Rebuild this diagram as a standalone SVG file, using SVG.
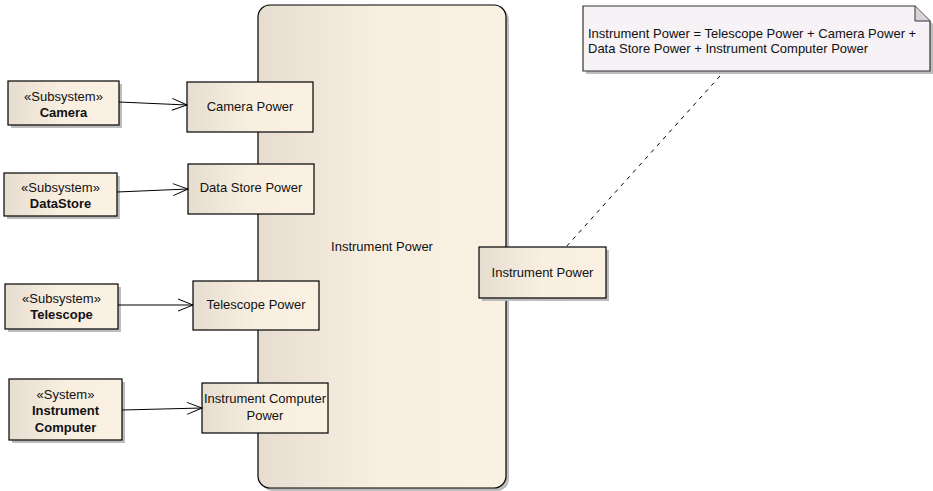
<svg xmlns="http://www.w3.org/2000/svg" width="933" height="491" viewBox="0 0 933 491">
  <defs>
    <linearGradient id="fillGrad" x1="0" y1="0" x2="1" y2="0">
      <stop offset="0" stop-color="#e6ddd0"/>
      <stop offset="0.5" stop-color="#f9efe1"/>
      <stop offset="1" stop-color="#fbf1e3"/>
    </linearGradient>
    <marker id="openArrow" markerWidth="18" markerHeight="14" refX="16" refY="7" orient="auto" markerUnits="userSpaceOnUse">
      <path d="M1,1 L16,7 L1,13" fill="none" stroke="#000" stroke-width="1"/>
    </marker>
  </defs>
  <style>
    .shadow { fill: #bdbdbd; }
    .box { fill: url(#fillGrad); stroke: #000; stroke-width: 1.2; }
    .note { fill: #f6f2f6; stroke: #333; stroke-width: 1.2; }
    .txt { font-family: "Liberation Sans", Arial, sans-serif; font-size: 13px; fill: #111; text-anchor: middle; }
    .bold { font-weight: bold; }
    .ntxt { font-family: "Liberation Sans", Arial, sans-serif; font-size: 13px; fill: #111; }
    .conn { stroke: #000; stroke-width: 1; fill: none; }
    .dash { stroke: #000; stroke-width: 1; fill: none; stroke-dasharray: 4 5; }
  </style>

  <rect width="933" height="491" fill="#fff"/>

  <!-- Instrument Power block -->
  <g id="instrument-power-block">
    <rect class="shadow" x="261" y="8" width="248" height="483" rx="12"/>
    <rect class="box" x="258" y="5" width="248" height="483" rx="12"/>
    <text class="txt" x="382" y="251">Instrument Power</text>
  </g>

  <!-- Output port -->
  <g id="port-instrument-power">
    <rect class="shadow" x="482" y="250" width="127" height="51"/>
    <rect class="box" x="479" y="247" width="127" height="51"/>
    <text class="txt" x="542.5" y="277">Instrument Power</text>
  </g>

  <!-- Input ports -->
  <g id="port-camera-power">
    <rect class="box" x="187" y="82" width="126" height="50"/>
    <text class="txt" x="250" y="111">Camera Power</text>
  </g>
  <g id="port-datastore-power">
    <rect class="box" x="188" y="164" width="126" height="50"/>
    <text class="txt" x="251" y="192">Data Store Power</text>
  </g>
  <g id="port-telescope-power">
    <rect class="box" x="193" y="281" width="126" height="49"/>
    <text class="txt" x="256" y="309">Telescope Power</text>
  </g>
  <g id="port-computer-power">
    <rect class="box" x="202" y="383" width="126" height="50"/>
    <text class="txt" x="265" y="403">Instrument Computer</text>
    <text class="txt" x="265" y="420">Power</text>
  </g>

  <!-- Subsystems -->
  <g id="camera">
    <rect class="shadow" x="11" y="84" width="111" height="44"/>
    <rect class="box" x="8" y="81" width="111" height="44"/>
    <text class="txt" x="63.5" y="101">«Subsystem»</text>
    <text class="txt bold" x="63.5" y="117">Camera</text>
  </g>
  <g id="datastore">
    <rect class="shadow" x="7" y="176" width="113" height="43"/>
    <rect class="box" x="4" y="173" width="113" height="43"/>
    <text class="txt" x="60.5" y="192">«Subsystem»</text>
    <text class="txt bold" x="60.5" y="208">DataStore</text>
  </g>
  <g id="telescope">
    <rect class="shadow" x="8" y="287" width="113" height="45"/>
    <rect class="box" x="5" y="284" width="113" height="45"/>
    <text class="txt" x="61.5" y="303">«Subsystem»</text>
    <text class="txt bold" x="61.5" y="319">Telescope</text>
  </g>
  <g id="instrument-computer">
    <rect class="shadow" x="12" y="382" width="113" height="61"/>
    <rect class="box" x="9" y="379" width="113" height="61"/>
    <text class="txt" x="65.5" y="399">«System»</text>
    <text class="txt bold" x="65.5" y="415">Instrument</text>
    <text class="txt bold" x="65.5" y="432">Computer</text>
  </g>

  <!-- Note -->
  <g id="note">
    <path class="shadow" d="M586,9 H918 L933,24 V74 H586 Z"/>
    <path class="note" d="M583,6 H915 L930,21 V71 H583 Z"/>
    <path d="M915,6 V21 H930" fill="#d8d4d8" stroke="#333" stroke-width="1"/>
    <text class="ntxt" x="588" y="38">Instrument Power = Telescope Power + Camera Power +</text>
    <text class="ntxt" x="588" y="53">Data Store Power + Instrument Computer Power</text>
  </g>

  <!-- Connectors -->
  <g id="connectors">
    <line class="conn" x1="119" y1="102" x2="187" y2="105" marker-end="url(#openArrow)"/>
    <line class="conn" x1="117" y1="192" x2="188" y2="189" marker-end="url(#openArrow)"/>
    <line class="conn" x1="118" y1="305" x2="193" y2="305" marker-end="url(#openArrow)"/>
    <line class="conn" x1="122" y1="410" x2="202" y2="408" marker-end="url(#openArrow)"/>
    <line class="dash" x1="720" y1="76" x2="566" y2="247"/>
  </g>
</svg>
